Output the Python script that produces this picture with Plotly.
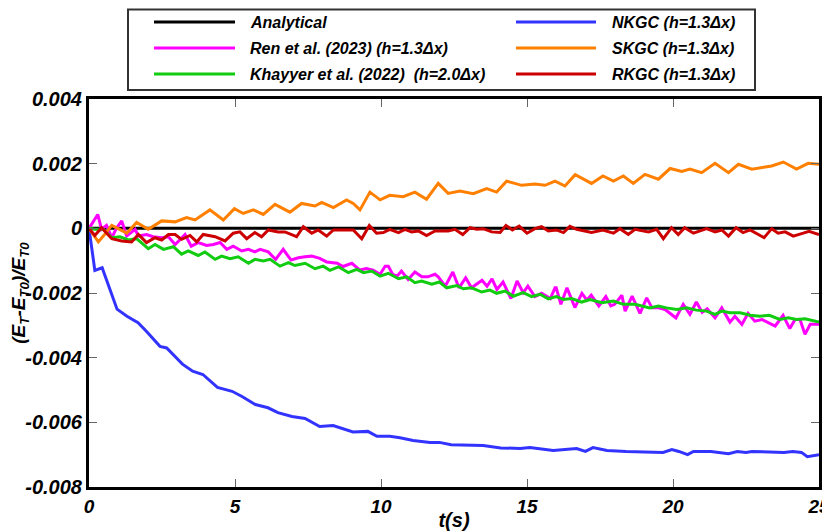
import numpy as np
import plotly.graph_objects as go

# values, energy error in units of 1e-3
t_analytical = [0, 25]
e_analytical = [0, 0]

t_ren = [0, 0.3, 0.43, 0.6, 0.78, 0.95, 1.12, 1.29, 1.58, 1.69, 1.97, 2.2, 2.49, 2.72, 2.95,
         3.17, 3.29, 3.5, 3.74, 4.03, 4.26, 4.49, 4.72, 4.94, 5.23, 5.46, 5.68, 5.86, 6.14, 6.39,
         6.65, 6.92, 7.17, 7.4, 7.63, 7.9, 8.14, 8.5, 8.7, 9.0, 9.28, 9.5, 9.73, 9.97, 10.14,
         10.25, 10.4, 10.55, 10.7, 10.93, 11.16, 11.4, 11.6, 11.85, 11.96, 12.2, 12.46, 12.67,
         12.9, 13.1, 13.46, 13.63, 13.8, 13.97, 14.18, 14.45, 14.66, 14.87, 15.03, 15.27, 15.5,
         15.8, 15.96, 16.0, 16.16, 16.37, 16.64, 16.88, 17.05, 17.2, 17.46, 17.7, 17.87, 18.0,
         18.25, 18.36, 18.6, 18.87, 19.1, 19.28, 19.5, 19.73, 20.1, 20.35, 20.58, 20.8, 21.0,
         21.17, 21.44, 21.67, 21.95, 22.12, 22.36, 22.57, 22.8, 23.05, 23.25, 23.5, 23.77, 24.0,
         24.18, 24.35, 24.52, 24.7, 25.0]
e_ren = [0, 0.43, -0.03, 0.09, -0.29, 0.02, 0.23, -0.24, -0.03, -0.24, -0.19, -0.26, -0.29,
         -0.26, -0.5, -0.29, -0.19, -0.55, -0.44, -0.53, -0.5, -0.44, -0.65, -0.55, -0.7, -0.65,
         -0.73, -0.65, -0.73, -0.96, -0.65, -0.98, -0.91, -0.88, -0.86, -0.93, -1.04, -1.08,
         -1.18, -1.08, -1.29, -1.24, -1.29, -1.42, -1.17, -1.17, -1.42, -1.48, -1.32, -1.58,
         -1.35, -1.5, -1.5, -1.42, -1.5, -1.79, -1.35, -1.84, -1.53, -1.84, -1.61, -1.79, -1.56,
         -1.89, -1.66, -2.17, -1.63, -1.99, -1.79, -2.11, -2.01, -2.17, -1.84, -1.84, -2.35,
         -1.84, -2.45, -2.01, -2.22, -2.07, -2.4, -2.11, -2.4, -2.35, -2.07, -2.56, -2.1, -2.63,
         -2.15, -2.46, -2.46, -2.51, -2.77, -2.35, -2.66, -2.28, -2.6, -2.49, -2.77, -2.46, -2.9,
         -2.72, -2.97, -2.63, -2.87, -2.82, -2.92, -3.02, -2.69, -3.1, -2.82, -2.82, -3.28,
         -2.97, -2.97]

t_khayyer = [0, 0.2, 0.49, 0.78, 1.06, 1.35, 1.63, 2.03, 2.26, 2.55, 2.89, 3.17, 3.4, 3.74,
             3.97, 4.32, 4.54, 4.83, 5.11, 5.46, 5.68, 5.97, 6.2, 6.54, 6.83, 7.05, 7.4, 7.74,
             8.02, 8.25, 8.54, 8.88, 9.17, 9.4, 9.68, 9.97, 10.25, 10.6, 10.88, 11.16, 11.39,
             11.74, 12.0, 12.25, 12.6, 12.82, 13.1, 13.45, 13.73, 13.96, 14.25, 14.53, 14.87,
             15.16, 15.45, 15.73, 16.0, 16.25, 16.53, 16.87, 17.16, 17.56, 17.96, 18.3, 18.7,
             19.2, 19.5, 19.78, 20.13, 20.47, 20.8, 21.15, 21.44, 21.67, 21.95, 22.3, 22.64,
             22.98, 23.3, 23.66, 23.95, 24.23, 24.52, 25.0]
e_khayyer = [0, -0.03, -0.03, -0.29, -0.26, -0.36, -0.32, -0.63, -0.5, -0.65, -0.57, -0.8, -0.7,
             -0.84, -0.73, -0.96, -0.86, -0.94, -0.88, -1.08, -0.96, -1.01, -0.96, -1.17, -1.06,
             -1.15, -1.08, -1.25, -1.17, -1.3, -1.19, -1.37, -1.27, -1.37, -1.32, -1.48, -1.39,
             -1.56, -1.5, -1.68, -1.63, -1.73, -1.66, -1.84, -1.77, -1.87, -1.84, -1.97, -1.91,
             -2.01, -1.94, -2.1, -1.99, -2.11, -2.04, -2.18, -2.11, -2.2, -2.17, -2.28, -2.2,
             -2.3, -2.25, -2.35, -2.35, -2.46, -2.4, -2.46, -2.51, -2.46, -2.53, -2.56, -2.66,
             -2.56, -2.61, -2.61, -2.69, -2.72, -2.69, -2.82, -2.77, -2.82, -2.8, -2.9]

t_nkgc = [0, 0.2, 0.45, 0.72, 0.96, 1.3, 1.68, 1.98, 2.43, 2.66, 3.2, 3.55, 3.9, 4.4, 4.9,
          5.24, 5.7, 6.13, 6.47, 6.95, 7.4, 7.9, 8.36, 9.04, 9.55, 9.86, 10.3, 10.65, 11.1,
          11.68, 12.0, 12.4, 13.5, 14.1, 14.76, 15.1, 15.9, 16.7, 17.0, 17.26, 17.74, 18.4,
          19.66, 19.96, 20.2, 20.5, 20.7, 21.3, 21.9, 22.2, 22.5, 22.7, 23.8, 24.1, 24.4, 24.6, 25.0]
e_nkgc = [0, -1.3, -1.22, -1.9, -2.5, -2.72, -2.92, -3.2, -3.65, -3.7, -4.2, -4.42, -4.52,
          -4.92, -5.04, -5.2, -5.45, -5.55, -5.7, -5.82, -5.88, -6.13, -6.1, -6.3, -6.28, -6.43,
          -6.43, -6.48, -6.56, -6.62, -6.62, -6.69, -6.72, -6.79, -6.81, -6.78, -6.87, -6.81,
          -6.9, -6.78, -6.87, -6.9, -6.93, -6.84, -6.9, -7.0, -6.9, -6.9, -6.97, -6.9, -6.93,
          -6.9, -6.93, -6.9, -6.93, -7.06, -7.0]

t_skgc = [0, 0.32, 0.49, 0.78, 1.0, 1.29, 1.63, 2.03, 2.49, 2.95, 3.34, 3.63, 4.14, 4.6, 4.98,
          5.28, 5.63, 5.97, 6.37, 6.88, 7.28, 7.74, 7.97, 8.37, 8.82, 9.05, 9.28, 9.62, 9.97,
          10.3, 10.76, 11.16, 11.56, 11.96, 12.3, 12.7, 13.16, 13.62, 13.96, 14.3, 14.82, 15.27,
          15.62, 15.96, 16.3, 16.65, 17.21, 17.6, 17.96, 18.3, 18.64, 19.04, 19.5, 19.9, 20.3,
          20.58, 20.98, 21.44, 21.9, 22.24, 22.7, 23.38, 23.78, 24.23, 24.63, 25.0]
e_skgc = [0, -0.42, -0.24, 0.09, -0.01, -0.15, 0.18, -0.03, 0.23, 0.2, 0.33, 0.26, 0.57, 0.26,
          0.61, 0.46, 0.57, 0.43, 0.74, 0.5, 0.77, 0.69, 0.8, 0.64, 0.88, 0.77, 0.57, 1.12, 0.88,
          1.02, 0.98, 1.12, 0.9, 1.39, 1.08, 1.15, 1.07, 1.23, 1.12, 1.46, 1.33, 1.37, 1.33,
          1.46, 1.31, 1.66, 1.39, 1.62, 1.46, 1.62, 1.39, 1.67, 1.52, 1.85, 1.76, 1.83, 1.72,
          2.01, 1.72, 1.98, 1.83, 1.93, 2.05, 1.83, 2.01, 1.98]

t_rkgc = [0, 0.2, 0.43, 0.78, 1.12, 1.46, 1.69, 1.97, 2.26, 2.49, 2.72, 2.95, 3.17, 3.46, 3.69,
          3.91, 4.32, 4.66, 4.94, 5.17, 5.4, 5.68, 5.91, 6.14, 6.48, 6.71, 7.11, 7.34, 7.63,
          7.85, 8.14, 8.37, 9.05, 9.34, 9.6, 9.85, 10.08, 10.3, 10.6, 10.82, 11.05, 11.28,
          11.56, 11.85, 12.3, 12.53, 12.8, 13.05, 13.28, 13.5, 13.79, 14.08, 14.28, 14.5, 14.73,
          15.0, 15.27, 15.5, 15.73, 16.0, 16.25, 16.47, 16.7, 17.21, 17.6, 17.96, 18.18, 18.47,
          18.7, 19.16, 19.44, 19.67, 19.95, 20.18, 20.4, 20.7, 21.15, 21.44, 21.67, 21.9, 22.16,
          22.4, 22.64, 22.86, 23.12, 23.38, 23.6, 23.84, 24.12, 24.46, 24.66, 25.0]
e_rkgc = [0, -0.22, 0.02, -0.32, -0.39, -0.42, -0.19, -0.44, -0.29, -0.36, -0.19, -0.19, -0.34,
          -0.22, -0.42, -0.19, -0.26, -0.39, -0.15, -0.11, -0.32, -0.13, -0.26, -0.05, -0.11,
          -0.11, -0.26, 0.05, -0.15, -0.05, -0.24, -0.05, -0.05, -0.32, 0.09, -0.15, -0.13,
          -0.03, -0.13, -0.03, -0.11, -0.08, -0.22, -0.08, -0.08, -0.03, -0.19, 0.02, -0.03,
          -0.01, -0.11, -0.13, 0.09, -0.05, 0.07, -0.15, -0.01, 0.05, -0.08, -0.05, -0.13, 0.06,
          -0.03, -0.13, -0.05, -0.15, -0.01, -0.19, -0.03, -0.11, -0.03, -0.32, 0.02, -0.19,
          0.02, -0.15, -0.01, -0.11, -0.05, -0.24, 0.02, -0.13, -0.05, -0.15, -0.29, -0.01,
          -0.15, -0.11, -0.24, -0.15, -0.09, -0.19]

names = ["Analytical", "Ren et al. (2023) (h=1.3Δx)", "Khayyer et al. (2022)  (h=2.0Δx)",
         "NKGC (h=1.3Δx)", "SKGC (h=1.3Δx)", "RKGC (h=1.3Δx)"]
colors = ["#000000", "#ff00ff", "#11cc11", "#3333ff", "#ff8000", "#cc0000"]
series = [(t_analytical, e_analytical), (t_ren, e_ren), (t_khayyer, e_khayyer),
          (t_nkgc, e_nkgc), (t_skgc, e_skgc), (t_rkgc, e_rkgc)]

x_ticks = [0, 5, 10, 15, 20, 25]
x_ticktext = ["0", "5", "10", "15", "20", "25"]
y_ticks = [0.004, 0.002, 0, -0.002, -0.004, -0.006, -0.008]
y_ticktext = ["0.004", "0.002", "0", "-0.002", "-0.004", "-0.006", "-0.008"]

FONT = "Liberation Sans"
OFF = 8  # page body margin
W, H = 830 - OFF, 531 - OFF
L, R, T, B = 89 - OFF, 11, 99 - OFF, 44


def px(x):
    # window pixel -> paper fraction
    return (x - OFF - L) / (W - L - R)


def py(y):
    return (H - B - (y - OFF)) / (H - T - B)


def bi(s):
    return "<b><i>" + s + "</i></b>"


fig = go.Figure()
for (t, e), name, c in zip(series, names, colors):
    fig.add_trace(go.Scatter(x=t, y=np.array(e) * 1e-3, mode="lines", name=name,
                             line=dict(color=c, width=3), showlegend=False))

# legend drawn by hand: two columns, three rows
shapes = [dict(type="rect", xref="paper", yref="paper", x0=px(128), x1=px(755),
               y0=py(90), y1=py(9.5), line=dict(color="#333333", width=2),
               fillcolor="white", layer="above")]
annotations = []
rows = [22, 48, 74]
cols = [(154, 235, 248), (516, 596, 610)]
for i, (name, c) in enumerate(zip(names, colors)):
    x0, x1, xt = cols[i // 3]
    yy = rows[i % 3]
    shapes.append(dict(type="line", xref="paper", yref="paper", x0=px(x0), x1=px(x1),
                       y0=py(yy), y1=py(yy), line=dict(color=c, width=3), layer="above"))
    annotations.append(dict(text=bi(name), xref="paper", yref="paper", x=px(xt), y=py(yy),
                            xanchor="left", yanchor="middle", align="left", showarrow=False,
                            font=dict(family=FONT, size=16, color="black")))

tick_font = dict(family=FONT, size=20, color="black")
xtick_font = dict(family=FONT, size=19, color="black")
fig.update_layout(
    width=W, height=H,
    margin=dict(l=L, r=R, t=T, b=B, autoexpand=False),
    plot_bgcolor="white", paper_bgcolor="white",
    font=dict(family=FONT),
    shapes=shapes, annotations=annotations,
    xaxis=dict(range=[0, 25], tickvals=x_ticks, ticktext=[bi(s) for s in x_ticktext],
               ticks="inside", ticklen=8, tickwidth=1,
               tickcolor="#666666", showline=True, linewidth=3, linecolor="black",
               mirror="ticks", showgrid=False, zeroline=False, tickfont=xtick_font,
               automargin=False, ticklabeloverflow="allow",
               title=dict(text=bi("t(s)"), font=tick_font, standoff=0)),
    yaxis=dict(range=[-0.008, 0.004], tickvals=y_ticks,
               ticktext=[bi(s) for s in y_ticktext],
               ticks="inside", ticklen=8, tickwidth=1, tickcolor="#666666",
               showline=True, linewidth=3, linecolor="black", mirror="ticks",
               showgrid=False, zeroline=False, tickfont=tick_font, automargin=False,
               ticklabeloverflow="allow",
               title=dict(text=bi("(E<sub>T</sub>-E<sub>T0</sub>)/E<sub>T0</sub>"),
                          font=dict(family=FONT, size=19, color="black"), standoff=4)),
)

fig.write_html("out.html")
